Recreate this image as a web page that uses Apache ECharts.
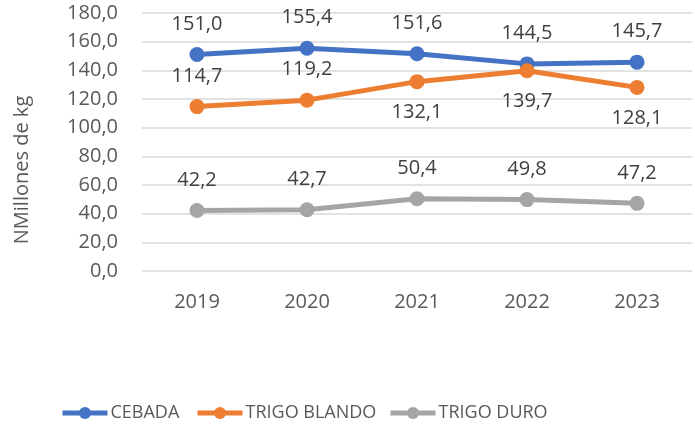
<!DOCTYPE html>
<html>
<head>
<meta charset="utf-8">
<script src="https://cdn.jsdelivr.net/npm/echarts@6/dist/echarts.min.js"></script>
<style>
  html, body { margin: 0; padding: 0; background: #fff; }
  #chart { width: 695px; height: 428px; }
</style>
</head>
<body>
<div id="chart"></div>
<script>
// datos
const years = ['2019', '2020', '2021', '2022', '2023'];
const cebada = [151.0, 155.4, 151.6, 144.5, 145.7];
const trigoBlando = [114.7, 119.2, 132.1, 139.7, 128.1];
const trigoDuro = [42.2, 42.7, 50.4, 49.8, 47.2];
// posicion de etiqueta de trigo blando (arriba / abajo)
const blandoLabelPos = ['top', 'top', 'bottom', 'bottom', 'bottom'];
const seriesNames = ['CEBADA', 'TRIGO BLANDO', 'TRIGO DURO'];

const fmt = v => v.toFixed(1).replace('.', ',');
const fontFam = '"Open Sans", "Liberation Sans", sans-serif';

function mkSeries(name, data, color, positions) {
    return {
        name: name,
        type: 'line',
        data: data.map((v, i) => ({
            value: v,
            label: { position: positions ? positions[i] : 'top' }
        })),
        symbol: 'circle',
        symbolSize: 15,
        lineStyle: { width: 5, color: color },
        itemStyle: { color: color },
        label: {
            show: true,
            distance: 13,
            color: '#404040',
            fontSize: 20,
            fontFamily: fontFam,
            formatter: p => fmt(p.value)
        },
        emphasis: { disabled: true },
        animation: false
    };
}

function mkLegend(name, left) {
    return {
        bottom: 6,
        left: left,
        padding: 0,
        itemWidth: 45,
        itemHeight: 15,
        lineStyle: { width: 5 },
        textStyle: { color: '#595959', fontSize: 18, fontFamily: fontFam, padding: [0, 0, 0, -2] },
        data: [name]
    };
}

let chart = echarts.init(document.getElementById('chart'));
const option = {
    backgroundColor: '#fff',
    grid: { left: 142, right: 3, top: 13, bottom: 157 },
    xAxis: {
        type: 'category',
        data: years,
        axisLine: { show: false },
        axisTick: { show: false },
        axisLabel: { color: '#595959', fontSize: 20, fontFamily: fontFam, margin: 21 }
    },
    yAxis: {
        type: 'value',
        min: 0,
        max: 180,
        interval: 20,
        name: 'NMillones de kg',
        nameLocation: 'middle',
        nameGap: 110,
        nameTextStyle: { color: '#595959', fontSize: 20, fontFamily: fontFam, padding: [0, 56, 0, 0] },
        axisLabel: { color: '#595959', fontSize: 20, fontFamily: fontFam, margin: 24, formatter: v => fmt(v) },
        splitLine: { lineStyle: { color: '#d9d9d9', width: 1.5 } }
    },
    legend: [
        mkLegend(seriesNames[0], 60),
        mkLegend(seriesNames[1], 195),
        mkLegend(seriesNames[2], 388)
    ],
    series: [
        mkSeries(seriesNames[0], cebada, '#4472C4'),
        mkSeries(seriesNames[1], trigoBlando, '#ED7D31', blandoLabelPos),
        mkSeries(seriesNames[2], trigoDuro, '#A5A5A5')
    ]
};
chart.setOption(option);
window.addEventListener('resize', function () { chart.resize(); });
</script>
</body>
</html>
